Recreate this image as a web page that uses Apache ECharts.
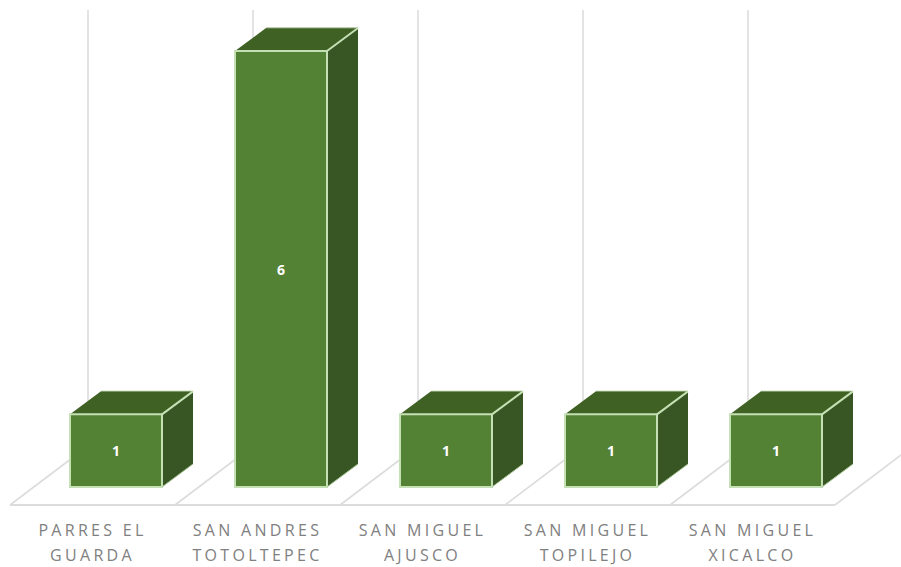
<!DOCTYPE html>
<html><head><meta charset="utf-8">
<script src="https://cdn.jsdelivr.net/npm/echarts@6/dist/echarts.min.js"></script>
<style>
html,body{margin:0;padding:0;background:#fff}
#c{width:901px;height:567px}
svg text{letter-spacing:3.3px}
svg text[style*="bold"]{letter-spacing:0}
</style></head><body><div id="c"></div>
<script>
const categories = ['PARRES EL\nGUARDA','SAN ANDRES\nTOTOLTEPEC','SAN MIGUEL\nAJUSCO','SAN MIGUEL\nTOPILEJO','SAN MIGUEL\nXICALCO'];
const values = [1,6,1,1,1];
const axisMax = 6;

const FRONT = '#548235', TOP = '#3f6124', SIDE = '#375623', EDGE = '#c5e0b4', GRID = '#dcdcdc';
const DX = 31, DY = 23;
const FLOOR_FRONT = 18, FLOOR_BACK = 41, FLOOR_DX = 78;
const BAR_SHIFT = 23.5, BAR_RATIO = 92/165;

function wall(params, api){
  const i = api.value(0);
  const band = api.size([1,0])[0];
  const c0 = api.coord([i,0]), c6 = api.coord([i,axisMax]);
  const left = c0[0]-band/2, y0 = c0[1];
  const ls = {stroke:GRID,lineWidth:1.6,fill:null};
  const line = (x1,y1,x2,y2)=>({type:'line',shape:{x1,y1,x2,y2},style:ls});
  const ch = [
    {type:'line',shape:{x1:left,y1:y0+FLOOR_FRONT,x2:left+band,y2:y0+FLOOR_FRONT},style:{stroke:GRID,lineWidth:2,fill:null}},
    line(left,y0+FLOOR_FRONT,left+FLOOR_DX,y0-FLOOR_BACK),
    line(left+FLOOR_DX,y0-FLOOR_BACK,left+FLOOR_DX,c6[1]-FLOOR_BACK)
  ];
  if(i===categories.length-1) ch.push(line(left+band,y0+FLOOR_FRONT,left+band+FLOOR_DX,y0-FLOOR_BACK));
  return {type:'group',children:ch};
}
function bar(params, api){
  const i = api.value(0), v = api.value(1);
  const band = api.size([1,0])[0], w = band*BAR_RATIO;
  const base = api.coord([i,0]), tip = api.coord([i,v]);
  const l = base[0]+BAR_SHIFT-w/2, r = l+w, t = tip[1], b = base[1];
  return {type:'group',children:[
    {type:'polygon',shape:{points:[[r,t],[r+DX,t-DY],[r+DX,b-DY],[r,b]]},style:{fill:SIDE}},
    {type:'polygon',shape:{points:[[l,t],[l+DX,t-DY],[r+DX,t-DY],[r,t]]},style:{fill:TOP}},
    {type:'line',shape:{x1:l+DX,y1:t-DY,x2:r+DX,y2:t-DY},style:{stroke:'#7f9c68',lineWidth:1}},
    {type:'rect',shape:{x:l,y:t,width:w,height:b-t},style:{fill:FRONT,stroke:EDGE,lineWidth:2}},
    {type:'line',shape:{x1:r,y1:t,x2:r+DX,y2:t-DY},style:{stroke:EDGE,lineWidth:2}},
    {type:'line',shape:{x1:r,y1:b,x2:r+DX,y2:b-DY},style:{stroke:'#a9c596',lineWidth:1}},
    {type:'text',style:{x:(l+r)/2,y:(t+b)/2,text:String(v),fill:'#fff',font:'bold 14px "Open Sans"',align:'center',verticalAlign:'middle'}}
  ]};
}
const chart = echarts.init(document.getElementById('c'),null,{renderer:'svg'});
chart.setOption({
  animation:false,
  backgroundColor:'#fff',
  grid:{left:10,width:825,top:51,bottom:80,containLabel:false},
  xAxis:{type:'category',data:categories,axisLine:{show:false},axisTick:{show:false},splitLine:{show:false},
    axisLabel:{interval:0,margin:30,color:'#808080',fontFamily:'Open Sans',fontSize:16,lineHeight:25}},
  yAxis:{type:'value',min:0,max:axisMax,interval:1,show:false},
  series:[
    {type:'custom',clip:false,silent:true,renderItem:wall,encode:{x:0,y:1},data:values.map((v,i)=>[i,v]),z:1},
    {type:'custom',clip:false,renderItem:bar,encode:{x:0,y:1},data:values.map((v,i)=>[i,v]),z:2}
  ]
});
</script></body></html>
